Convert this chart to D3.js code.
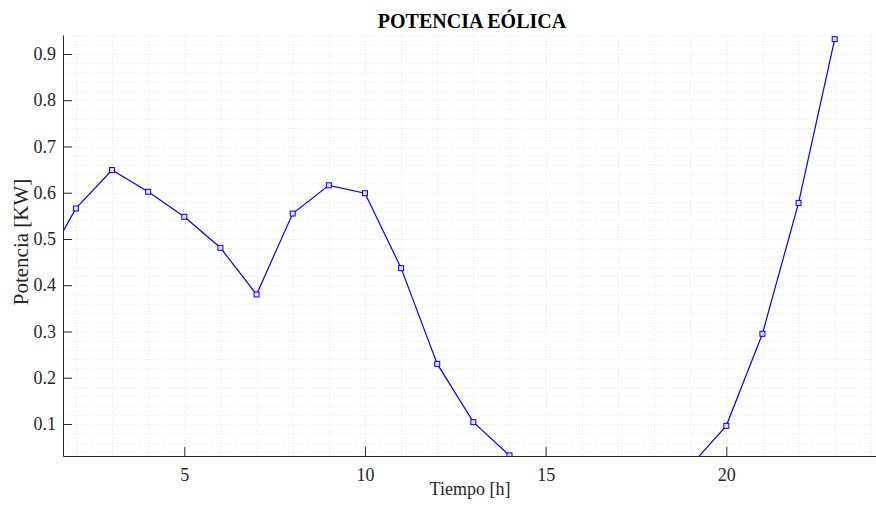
<!DOCTYPE html>
<html lang="es">
<head>
    <meta charset="UTF-8">
    <title>Potencia eólica</title>
    <script src="https://d3js.org/d3.v7.min.js"></script>
    <style>
        body { margin: 0; background: #fff; }
        svg text { font-family: "Liberation Serif", "Times New Roman", serif; fill: #262626; }
        .grid line { stroke: #e6e6e6; stroke-dasharray: 1,2; }
        .grid path { display: none; }
        .axis path, .axis line { stroke: #262626; }
    </style>
</head>
<body>
    <div id="chart"></div>

    <script>
        // hours and wind power (values below the axis are estimated)
        const hours = [1, 2, 3, 4, 5, 6, 7, 8, 9, 10, 11, 12, 13, 14, 15, 16, 17, 18, 19, 20, 21, 22, 23];
        const power = [0.426, 0.566, 0.649, 0.602, 0.548, 0.481, 0.380, 0.555, 0.616, 0.599, 0.437,
                       0.230, 0.104, 0.032, 0.0, 0.0, 0.0, 0.0, 0.009, 0.096, 0.295, 0.578, 0.932];
        const xTicks = [5, 10, 15, 20];
        const yTicks = [0.1, 0.2, 0.3, 0.4, 0.5, 0.6, 0.7, 0.8, 0.9];

        const width = 876, height = 506;
        const plotLeft = 63, plotRight = 876, plotTop = 35, plotBottom = 456;

        const svg = d3.select("#chart")
            .append("svg")
            .attr("width", width)
            .attr("height", height);

        const xScale = d3.scaleLinear().domain([1.643, 24.143]).range([plotLeft, plotRight]);
        const yScale = d3.scaleLinear().domain([0.0308, 0.941]).range([plotBottom, plotTop]);

        // minor grid: every hour and every 0.02 kW
        svg.append("g")
            .attr("class", "grid")
            .attr("transform", `translate(0, ${plotBottom})`)
            .call(d3.axisBottom(xScale)
                .tickValues(d3.range(2, 25))
                .tickSize(-(plotBottom - plotTop))
                .tickFormat(""));

        svg.append("g")
            .attr("class", "grid")
            .attr("transform", `translate(${plotLeft}, 0)`)
            .call(d3.axisLeft(yScale)
                .tickValues(d3.range(0.04, 0.945, 0.02))
                .tickSize(-(plotRight - plotLeft))
                .tickFormat(""));

        // clip the line to the axes box
        svg.append("clipPath")
            .attr("id", "clip")
            .append("rect")
            .attr("x", plotLeft)
            .attr("y", plotTop)
            .attr("width", plotRight - plotLeft)
            .attr("height", plotBottom - plotTop);

        const data = hours.map((h, i) => ({ h: h, p: power[i] }));

        const line = d3.line()
            .x(d => xScale(d.h))
            .y(d => yScale(d.p));

        const plot = svg.append("g").attr("clip-path", "url(#clip)");

        plot.append("path")
            .datum(data)
            .attr("fill", "none")
            .attr("stroke", "#0000ff")
            .attr("stroke-width", 1.2)
            .attr("d", line);

        plot.selectAll("rect.marker")
            .data(data)
            .enter()
            .append("rect")
            .attr("class", "marker")
            .attr("x", d => xScale(d.h) - 2.5)
            .attr("y", d => yScale(d.p) - 2.5)
            .attr("width", 5)
            .attr("height", 5)
            .attr("fill", "#dde0ff")
            .attr("stroke", "#0000ff")
            .attr("stroke-width", 1);

        // axes with inward ticks
        svg.append("g")
            .attr("class", "axis")
            .attr("transform", `translate(0, ${plotBottom})`)
            .call(d3.axisBottom(xScale)
                .tickValues(xTicks)
                .tickSize(-9)
                .tickSizeOuter(0)
                .tickPadding(12)
                .tickFormat(d3.format("d")));

        svg.append("g")
            .attr("class", "axis")
            .attr("transform", `translate(${plotLeft}, 0)`)
            .call(d3.axisLeft(yScale)
                .tickValues(yTicks)
                .tickSize(-9)
                .tickSizeOuter(0)
                .tickPadding(7)
                .tickFormat(d3.format(".1f")));

        svg.selectAll(".axis text")
            .style("font-family", "'Liberation Serif', 'Times New Roman', serif")
            .style("font-size", "18px")
            .style("fill", "#262626");

        // title and axis labels
        svg.append("text")
            .attr("x", 472)
            .attr("y", 28)
            .style("text-anchor", "middle")
            .style("font-size", "20px")
            .style("font-weight", "bold")
            .style("fill", "#000")
            .text("POTENCIA EÓLICA");

        svg.append("text")
            .attr("x", 470)
            .attr("y", 495)
            .style("text-anchor", "middle")
            .style("font-size", "18px")
            .text("Tiempo [h]");

        svg.append("text")
            .attr("transform", "rotate(-90)")
            .attr("x", -242)
            .attr("y", 28)
            .style("text-anchor", "middle")
            .style("font-size", "21px")
            .text("Potencia [KW]");
    </script>
</body>
</html>
